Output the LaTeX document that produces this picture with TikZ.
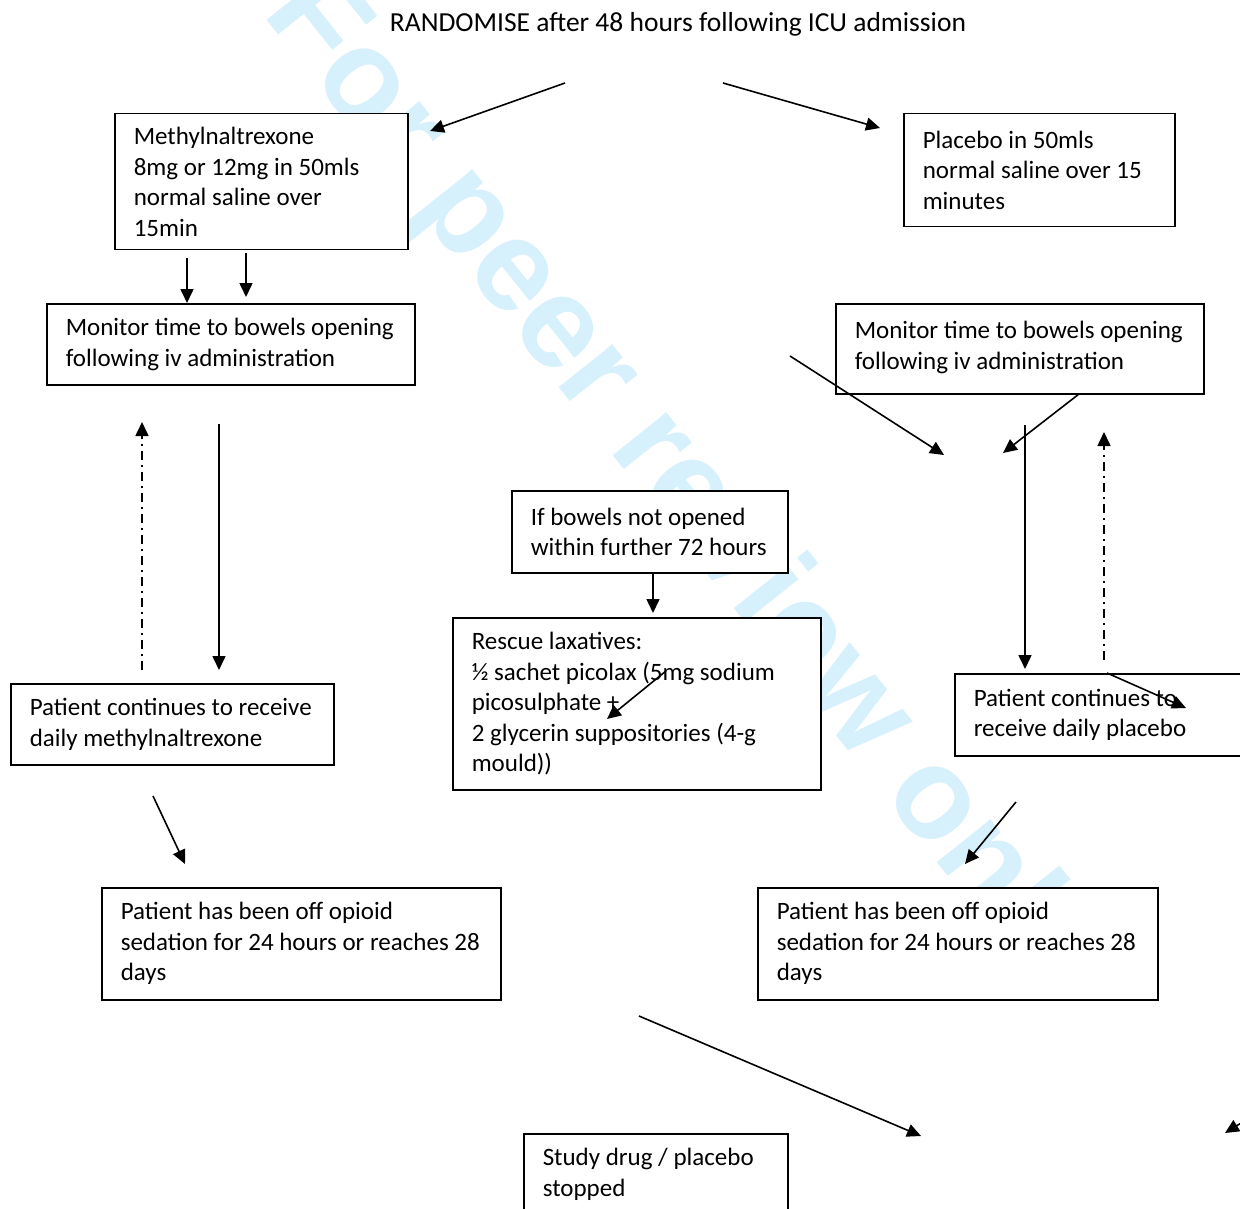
\documentclass[tikz,border=0pt]{standalone}
\usepackage{fontspec}
\setmainfont{Carlito}
\newfontfamily\wmfont{Liberation Sans}
\usetikzlibrary{arrows.meta}
\definecolor{wmblue}{RGB}{214,240,252}

\begin{document}
\begin{tikzpicture}[x=1pt, y=-1pt, >={Triangle[length=14pt,width=13pt]},
  flowbox/.style={draw, line width=1.5pt, fill=white, anchor=north west, align=left,
    inner xsep=0pt, inner ysep=0pt, font=\fontsize{25}{30.5}\selectfont,
    execute at begin node={\leftskip=19pt\rightskip=0pt plus 1fil\spaceskip=0pt\xspaceskip=0pt}},
  flow/.style={->, line width=1.6pt},
  backflow/.style={->, line width=1.6pt, dash pattern=on 9pt off 5pt on 2pt off 5pt}]
        \useasboundingbox (0,0) rectangle (1240,1209);
        \clip (0,0) rectangle (1240,1209);

        % watermark behind the boxes
        \node[rotate=-51.5, text=wmblue, font=\wmfont\bfseries\fontsize{130}{130}\selectfont] (wm) at (681,487) {For peer review only};

        \node[font=\fontsize{27.5}{33}\selectfont] (title) at (678,24) {RANDOMISE after 48 hours following ICU admission};

        % methylnaltrexone arm
        \node[flowbox, minimum width=293pt, minimum height=136pt, text width=293pt] (mnx) at (114,113) {Methylnaltrexone\\8mg or 12mg in 50mls\\normal saline over\\15min};
        \node[flowbox, minimum width=368pt, minimum height=81pt, text width=368pt] (monL) at (46,303) {Monitor time to bowels opening\\following iv administration};
        \node[flowbox, minimum width=323pt, minimum height=81pt, text width=323pt] (contL) at (10,683) {Patient continues to receive\\daily methylnaltrexone};
        \node[flowbox, minimum width=399pt, minimum height=112pt, text width=399pt] (offL) at (101,887) {Patient has been off opioid\\sedation for 24 hours or reaches 28\\days};

        % placebo arm
        \node[flowbox, minimum width=271pt, minimum height=113pt, text width=271pt] (plac) at (903,113) {Placebo in 50mls\\normal saline over 15\\minutes};
        \node[flowbox, minimum width=368pt, minimum height=90pt, text width=368pt] (monR) at (835,303) {Monitor time to bowels opening\\following iv administration\\[-24pt]\mbox{}};
        \node[flowbox, minimum width=323pt, minimum height=82pt, text width=323pt] (contR) at (954,673) {Patient continues to\\receive daily placebo};
        \node[flowbox, minimum width=400pt, minimum height=112pt, text width=400pt] (offR) at (757,887) {Patient has been off opioid\\sedation for 24 hours or reaches 28\\days};

        % rescue and end
        \node[flowbox, minimum width=276pt, minimum height=82pt, text width=276pt] (ifbow) at (511,490) {If bowels not opened\\within further 72 hours};
        \node[flowbox, minimum width=368pt, minimum height=172pt, text width=368pt] (rescue) at (452,617) {Rescue laxatives:\\½ sachet picolax (5mg sodium\\picosulphate +\\2 glycerin suppositories (4-g\\mould))};
        \node[flowbox, minimum width=264pt, minimum height=81pt, text width=264pt] (stop) at (523,1133) {Study drug / placebo\\stopped};

        % free ends of the arrows
        \coordinate (randL) at (565,83);   \coordinate (randLend) at (430,131);
        \coordinate (randR) at (723,83);   \coordinate (randRend) at (880,128);
        \coordinate (mnxA) at (187,258);   \coordinate (mnxAend) at (187,303);
        \coordinate (mnxB) at (246,253);   \coordinate (mnxBend) at (246,297);
        \coordinate (monLdn) at (219,424); \coordinate (monLdnend) at (219,670);
        \coordinate (contLup) at (142,670); \coordinate (contLupend) at (142,422);
        \coordinate (monRin) at (790,356); \coordinate (monRinend) at (944,455);
        \coordinate (monRout) at (1079,394); \coordinate (monRoutend) at (1003,453);
        \coordinate (monRdn) at (1025,425); \coordinate (monRdnend) at (1025,669);
        \coordinate (contRup) at (1104,660); \coordinate (contRupend) at (1104,432);
        \coordinate (contRx) at (1107,673); \coordinate (contRxend) at (1186,708);
        \coordinate (ifbowdn) at (653,572); \coordinate (ifbowdnend) at (653,613);
        \coordinate (rescx) at (666,671);  \coordinate (rescxend) at (607,719);
        \coordinate (contLdn) at (153,796); \coordinate (contLdnend) at (185,864);
        \coordinate (contRdn) at (1016,802); \coordinate (contRdnend) at (965,864);
        \coordinate (offdn) at (639,1016); \coordinate (offdnend) at (921,1136);
        \coordinate (edge) at (1262,1110); \coordinate (edgeend) at (1225,1133);

        \draw[flow] (randL) -- (randLend);
        \draw[flow] (randR) -- (randRend);
        \draw[flow] (mnxA) -- (mnxAend);
        \draw[flow] (mnxB) -- (mnxBend);
        \draw[flow] (monLdn) -- (monLdnend);
        \draw[backflow] (contLup) -- (contLupend);
        \draw[flow] (monRin) -- (monRinend);
        \draw[flow] (monRout) -- (monRoutend);
        \draw[flow] (monRdn) -- (monRdnend);
        \draw[backflow] (contRup) -- (contRupend);
        \draw[flow] (contRx) -- (contRxend);
        \draw[flow] (ifbowdn) -- (ifbowdnend);
        \draw[flow] (rescx) -- (rescxend);
        \draw[flow] (contLdn) -- (contLdnend);
        \draw[flow] (contRdn) -- (contRdnend);
        \draw[flow] (offdn) -- (offdnend);
        \draw[flow] (edge) -- (edgeend);
    \end{tikzpicture}
\end{document}
